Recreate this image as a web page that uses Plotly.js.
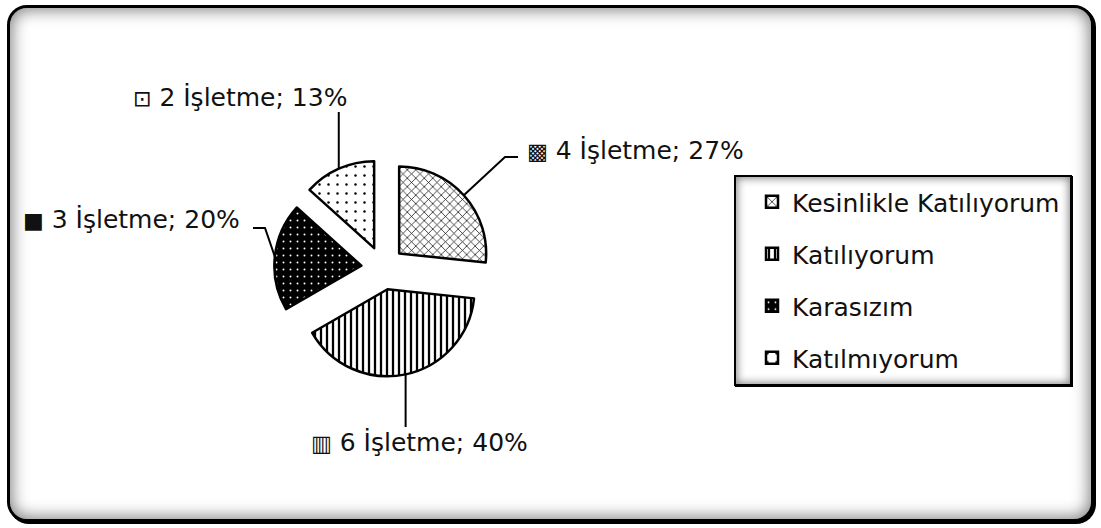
<!DOCTYPE html>
<html>
<head>
<meta charset="utf-8">
<script src="https://cdn.plot.ly/plotly-3.0.1.min.js"></script>
<style>
  html, body { margin: 0; padding: 0; background: #fff; }
  #wrap { position: relative; width: 1101px; height: 528px; overflow: hidden; }
  /* rounded outer frame with soft inner shading */
  #frame {
    position: absolute; left: 7px; top: 5px; width: 1087px; height: 517px;
    box-sizing: border-box; border: 3px solid #000; border-radius: 20px;
    box-shadow: 2px 2px 0 #000, inset 0 0 16px 2px rgba(0,0,0,0.5);
    background: #fff;
  }
  /* legend box */
  #legendbox {
    position: absolute; left: 734px; top: 175px; width: 338px; height: 211px;
    box-sizing: border-box; border: 2px solid #000;
    box-shadow: 1px 1px 0 #000, inset 0 0 9px 1px rgba(0,0,0,0.5);
    background: #fff;
  }
  #chart { position: absolute; left: 0; top: 0; width: 1101px; height: 528px; }
</style>
</head>
<body>
<div id="wrap">
  <div id="frame"></div>
  <div id="legendbox"></div>
  <div id="chart"></div>
</div>
<script>
// Survey answers: number of businesses per response
const categories = ['Kesinlikle Katılıyorum', 'Katılıyorum', 'Karasızım', 'Katılmıyorum'];
const counts = [4, 6, 3, 2];
const unitLabel = 'İşletme';
// small key glyph shown in front of each data label
const keyGlyphs = ['▩', '▥', '■', '⊡'];

// ---- layout settings (pixels) ----
const W = 1101, H = 528;
const PIE_CX = 383, PIE_CY = 268, PIE_R = 87, PULL = 0.25;
const FONT = 'DejaVu Sans';
const FONT_SIZE = 25;
// left edge / vertical centre of each data label
const labelPos = [[525, 150], [309, 442], [21, 219], [131, 97]];
// leader lines: optional elbow, then end point (null x = straight line from the arc)
const leaders = [
  { elbow: [505, 157], end: [518, 157] },
  { end: [null, 427] },
  { elbow: [265, 228], end: [253, 228] },
  { end: [null, 112] }
];
const LEGEND_ROW_GAP = 52;

const px = x => x / W;
const py = y => 1 - y / H;

const total = counts.reduce((a, b) => a + b, 0);
const pcts = counts.map(v => Math.round(v / total * 100));

// pie domain sized so that Plotly's radius equals PIE_R with the pull applied
const half = PIE_R * (1 + PULL);
const trace = {
  type: 'pie',
  labels: categories,
  values: counts,
  sort: false,
  direction: 'clockwise',
  rotation: 0,
  pull: PULL,
  textinfo: 'none',
  hoverinfo: 'none',
  domain: {
    x: [px(PIE_CX - half), px(PIE_CX + half)],
    y: [py(PIE_CY + half), py(PIE_CY - half)]
  },
  marker: {
    colors: ['#ffffff', '#ffffff', '#000000', '#ffffff'],
    line: { color: '#000', width: 2.5 },
    pattern: {
      shape: ['x', '|', '.', '.'],
      fgcolor: ['#000', '#000', '#fff', '#000'],
      bgcolor: ['#fff', '#fff', '#000', '#fff'],
      size: [6, 6, 7, 9],
      solidity: [0.22, 0.38, 0.06, 0.06],
      fillmode: 'replace'
    }
  }
};

// leader lines and data labels, computed from the slice angles
const shapes = [];
const annotations = [];
let acc = 0;
counts.forEach((v, i) => {
  const mid = (acc + v / 2) / total * 2 * Math.PI;
  acc += v;
  const dx = Math.sin(mid), dy = -Math.cos(mid);
  const apexX = PIE_CX + PULL * PIE_R * dx, apexY = PIE_CY + PULL * PIE_R * dy;
  const arcX = apexX + PIE_R * dx, arcY = apexY + PIE_R * dy;
  const L = leaders[i];
  const pts = [[arcX, arcY]];
  if (L.elbow) pts.push(L.elbow);
  pts.push([L.end[0] === null ? arcX : L.end[0], L.end[1]]);
  const path = pts.map((p, k) => (k ? 'L' : 'M') + px(p[0]).toFixed(5) + ',' + py(p[1]).toFixed(5)).join(' ');
  shapes.push({ type: 'path', xref: 'paper', yref: 'paper', path: path, line: { color: '#000', width: 2 } });

  annotations.push({
    xref: 'paper', yref: 'paper',
    x: px(labelPos[i][0]), y: py(labelPos[i][1]),
    xanchor: 'left', yanchor: 'middle', showarrow: false,
    text: '<span style="font-size:22px">' + keyGlyphs[i] + '</span> ' +
          counts[i] + ' ' + unitLabel + '; ' + pcts[i] + '%',
    font: { family: FONT, size: FONT_SIZE, color: '#111' }
  });
});

const layout = {
  width: W, height: H,
  margin: { l: 0, r: 0, t: 0, b: 0 },
  paper_bgcolor: 'rgba(0,0,0,0)',
  plot_bgcolor: 'rgba(0,0,0,0)',
  font: { family: FONT, size: FONT_SIZE, color: '#111' },
  showlegend: true,
  legend: {
    x: px(752), y: py(179), xanchor: 'left', yanchor: 'top',
    bgcolor: 'rgba(0,0,0,0)', borderwidth: 0,
    font: { family: FONT, size: FONT_SIZE, color: '#111' },
    traceorder: 'normal'
  },
  shapes: shapes,
  annotations: annotations
};

Plotly.newPlot('chart', [trace], layout, { displayModeBar: false, staticPlot: true }).then(gd => {
  // spread the legend rows further apart
  const sb = gd.querySelector('.legend .scrollbox');
  if (sb) sb.removeAttribute('clip-path');
  const items = gd.querySelectorAll('.legend .traces');
  let x0 = null, y0 = null;
  items.forEach((el, i) => {
    const m = /translate\(\s*([-\d.]+)[ ,]+([-\d.]+)\s*\)/.exec(el.getAttribute('transform') || '');
    if (!m) return;
    if (x0 === null) { x0 = parseFloat(m[1]); y0 = parseFloat(m[2]); }
    el.setAttribute('transform', 'translate(' + x0 + ',' + (y0 + i * LEGEND_ROW_GAP) + ')');
  });
});
</script>
</body>
</html>
